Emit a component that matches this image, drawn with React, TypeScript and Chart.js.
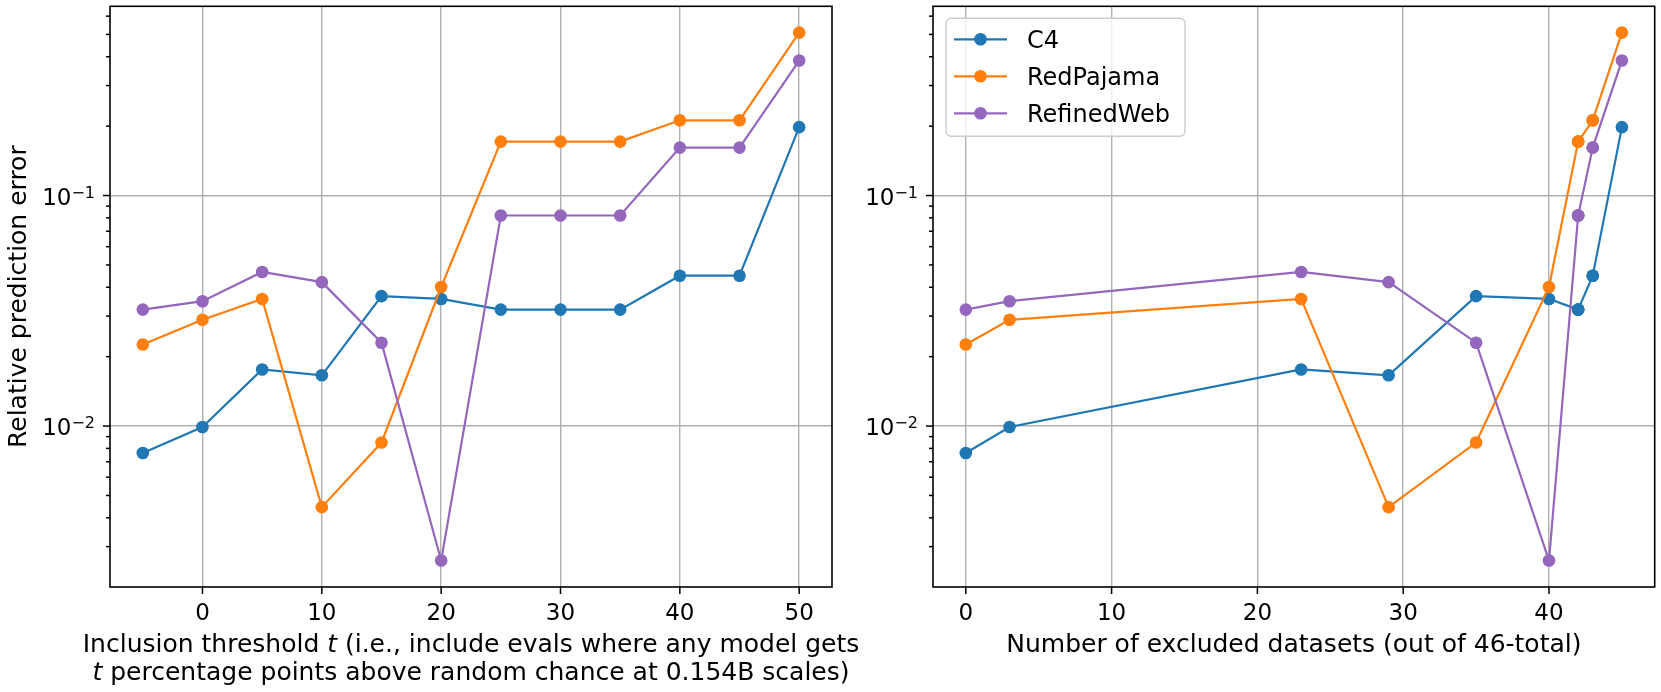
import React, { useEffect, useRef } from 'react';
import { Chart, registerables } from 'chart.js';

Chart.register(...registerables);

// ---------- data ----------
const thresholds = [-5, 0, 5, 10, 15, 20, 25, 30, 35, 40, 45, 50];
const excludedCounts = [0, 3, 23, 29, 35, 40, 42, 42, 42, 43, 43, 45];
const c4 = [0.00764, 0.00991, 0.0176, 0.0166, 0.0366, 0.0356, 0.032, 0.032, 0.032, 0.0449, 0.0449, 0.198];
const redPajama = [0.0226, 0.0289, 0.0356, 0.00445, 0.00848, 0.0401, 0.1714, 0.1714, 0.1714, 0.212, 0.212, 0.509];
const refinedWeb = [0.032, 0.0348, 0.0466, 0.0421, 0.023, 0.00261, 0.0819, 0.0819, 0.0819, 0.1614, 0.1614, 0.385];
const seriesNames = ['C4', 'RedPajama', 'RefinedWeb'];
const seriesValues = [c4, redPajama, refinedWeb];
const seriesColors = ['#1f77b4', '#ff7f0e', '#9467bd'];

const leftXTicks = [0, 10, 20, 30, 40, 50];
const rightXTicks = [0, 10, 20, 30, 40];
const yMajorTicks = [0.01, 0.1];
const yMajorLabels = [['10', '\u22122'], ['10', '\u22121']];
const yMinorTicks = [
  0.002, 0.003, 0.004, 0.005, 0.006, 0.007, 0.008, 0.009,
  0.02, 0.03, 0.04, 0.05, 0.06, 0.07, 0.08, 0.09,
  0.2, 0.3, 0.4, 0.5, 0.6, 0.7,
];
const yLabel = 'Relative prediction error';
const leftXLabel: [string, boolean][][] = [
  [['Inclusion threshold ', false], ['t', true], [' (i.e., include evals where any model gets', false]],
  [['t', true], [' percentage points above random chance at 0.154B scales)', false]],
];
const rightXLabel: [string, boolean][][] = [[['Number of excluded datasets (out of 46-total)', false]]];

const Y_MIN = 0.002004;
const Y_MAX = 0.662;
const FONT = '"DejaVu Sans"';
const H = 692;

type Panel = {
  left: number;
  width: number;
  area: { left: number; top: number; right: number; bottom: number };
  xs: number[];
  xMin: number;
  xMax: number;
  xTicks: number[];
  xLabel: [string, boolean][][];
  showYLabel: boolean;
  showLegend: boolean;
};

const panels: Panel[] = [
  {
    left: 0, width: 900,
    area: { left: 110, top: 6, right: 832, bottom: 587 },
    xs: thresholds, xMin: -7.75, xMax: 52.75, xTicks: leftXTicks,
    xLabel: leftXLabel, showYLabel: true, showLegend: false,
  },
  {
    left: 850, width: 811,
    area: { left: 83, top: 6, right: 805, bottom: 587 },
    xs: excludedCounts, xMin: -2.25, xMax: 47.25, xTicks: rightXTicks,
    xLabel: rightXLabel, showYLabel: false, showLegend: true,
  },
];

function drawMixedLine(ctx: CanvasRenderingContext2D, parts: [string, boolean][], cx: number, y: number, size: number) {
  const widths = parts.map(([t, it]) => {
    ctx.font = `${it ? 'italic ' : ''}${size}px ${FONT}`;
    return ctx.measureText(t).width;
  });
  const total = widths.reduce((a, b) => a + b, 0);
  let x = cx - total / 2;
  ctx.textAlign = 'left';
  ctx.textBaseline = 'alphabetic';
  parts.forEach(([t, it], i) => {
    ctx.font = `${it ? 'italic ' : ''}${size}px ${FONT}`;
    ctx.fillText(t, x, y);
    x += widths[i];
  });
}

function makePlugin(p: Panel) {
  return {
    id: 'decor',
    afterDraw(chart: any) {
      const ctx: CanvasRenderingContext2D = chart.ctx;
      const a = chart.chartArea;
      const xs = chart.scales.x;
      const ys = chart.scales.y;
      ctx.save();
      ctx.fillStyle = '#000';
      ctx.strokeStyle = '#000';
      // spines
      ctx.lineWidth = 1.6;
      ctx.strokeRect(a.left, a.top, a.right - a.left, a.bottom - a.top);
      // x ticks
      ctx.lineWidth = 1.5;
      ctx.font = `23px ${FONT}`;
      ctx.textAlign = 'center';
      ctx.textBaseline = 'alphabetic';
      p.xTicks.forEach((v) => {
        const px = xs.getPixelForValue(v);
        ctx.beginPath();
        ctx.moveTo(px, a.bottom);
        ctx.lineTo(px, a.bottom + 7);
        ctx.stroke();
        ctx.fillText(String(v), px, a.bottom + 33);
      });
      // y minor ticks
      yMinorTicks.forEach((v) => {
        if (v < Y_MIN || v > Y_MAX) return;
        const py = ys.getPixelForValue(v);
        ctx.beginPath();
        ctx.moveTo(a.left, py);
        ctx.lineTo(a.left - 4, py);
        ctx.stroke();
      });
      // y major ticks + labels
      yMajorTicks.forEach((v, i) => {
        const py = ys.getPixelForValue(v);
        ctx.beginPath();
        ctx.moveTo(a.left, py);
        ctx.lineTo(a.left - 7, py);
        ctx.stroke();
        const [base, sup] = yMajorLabels[i];
        const right = a.left - 15;
        ctx.textAlign = 'right';
        ctx.textBaseline = 'alphabetic';
        ctx.font = `16px ${FONT}`;
        const sw = ctx.measureText(sup).width;
        ctx.fillText(sup, right, py + 2);
        ctx.font = `23px ${FONT}`;
        ctx.fillText(base, right - sw, py + 9);
      });
      // x label
      p.xLabel.forEach((line, i) => {
        drawMixedLine(ctx, line, (a.left + a.right) / 2, a.bottom + 65 + i * 28, 25);
      });
      // y label
      if (p.showYLabel) {
        ctx.save();
        ctx.translate(26, (a.top + a.bottom) / 2);
        ctx.rotate(-Math.PI / 2);
        ctx.font = `25px ${FONT}`;
        ctx.textAlign = 'center';
        ctx.textBaseline = 'alphabetic';
        ctx.fillText(yLabel, 0, 0);
        ctx.restore();
      }
      // legend
      if (p.showLegend) {
        const bx = a.left + 13, by = a.top + 12, bw = 239, bh = 118, r = 5;
        ctx.beginPath();
        ctx.moveTo(bx + r, by);
        ctx.arcTo(bx + bw, by, bx + bw, by + bh, r);
        ctx.arcTo(bx + bw, by + bh, bx, by + bh, r);
        ctx.arcTo(bx, by + bh, bx, by, r);
        ctx.arcTo(bx, by, bx + bw, by, r);
        ctx.closePath();
        ctx.fillStyle = 'rgba(255,255,255,0.8)';
        ctx.fill();
        ctx.strokeStyle = '#cccccc';
        ctx.lineWidth = 1.4;
        ctx.stroke();
        seriesNames.forEach((name, i) => {
          const ry = by + 21 + i * 37;
          ctx.strokeStyle = seriesColors[i];
          ctx.lineWidth = 2.2;
          ctx.beginPath();
          ctx.moveTo(bx + 8, ry);
          ctx.lineTo(bx + 61, ry);
          ctx.stroke();
          ctx.fillStyle = seriesColors[i];
          ctx.beginPath();
          ctx.arc(bx + 34.5, ry, 6.3, 0, Math.PI * 2);
          ctx.fill();
          ctx.fillStyle = '#000';
          ctx.font = `24px ${FONT}`;
          ctx.textAlign = 'left';
          ctx.textBaseline = 'alphabetic';
          ctx.fillText(name, bx + 81, ry + 9);
        });
      }
      ctx.restore();
    },
  };
}

function PanelChart({ p }: { p: Panel }) {
  const ref = useRef<HTMLCanvasElement | null>(null);
  useEffect(() => {
    if (!ref.current) return;
    const chart = new Chart(ref.current, {
      type: 'line',
      data: {
        datasets: seriesValues.map((vals, i) => ({
          label: seriesNames[i],
          data: p.xs.map((x, j) => ({ x, y: vals[j] })),
          borderColor: seriesColors[i],
          backgroundColor: seriesColors[i],
          pointBackgroundColor: seriesColors[i],
          pointBorderWidth: 0,
          pointRadius: 6.3,
          pointHoverRadius: 6.3,
          borderWidth: 2.2,
          tension: 0,
          order: 3 - i,
        })),
      },
      options: {
        animation: false,
        responsive: false,
        maintainAspectRatio: false,
        events: [],
        layout: {
          padding: { left: 0, top: p.area.top, right: p.width - p.area.right, bottom: 0 },
        },
        plugins: { legend: { display: false }, tooltip: { enabled: false } },
        scales: {
          x: {
            type: 'linear',
            min: p.xMin,
            max: p.xMax,
            afterBuildTicks: (s: any) => {
              s.ticks = p.xTicks.map((v) => ({ value: v }));
            },
            afterFit: (s: any) => {
              s.height = H - p.area.bottom;
            },
            ticks: { display: false },
            grid: { color: '#b0b0b0', lineWidth: 1.4, drawTicks: false },
            border: { display: false },
          },
          y: {
            type: 'logarithmic',
            min: Y_MIN,
            max: Y_MAX,
            afterBuildTicks: (s: any) => {
              s.ticks = yMajorTicks.map((v) => ({ value: v, major: true }));
            },
            afterFit: (s: any) => {
              s.width = p.area.left;
            },
            ticks: { display: false },
            grid: { color: '#b0b0b0', lineWidth: 1.4, drawTicks: false },
            border: { display: false },
          },
        },
      } as any,
      plugins: [makePlugin(p)],
    });
    return () => chart.destroy();
  }, [p]);
  return (
    <canvas
      ref={ref}
      width={p.width}
      height={H}
      style={{ position: 'absolute', left: p.left, top: 0, width: p.width, height: H }}
    />
  );
}

export default function App() {
  return (
    <div style={{ position: 'fixed', left: 0, top: 0, width: 1661, height: H, background: '#fff', overflow: 'hidden' }}>
      {panels.map((p, i) => (
        <PanelChart key={i} p={p} />
      ))}
    </div>
  );
}
